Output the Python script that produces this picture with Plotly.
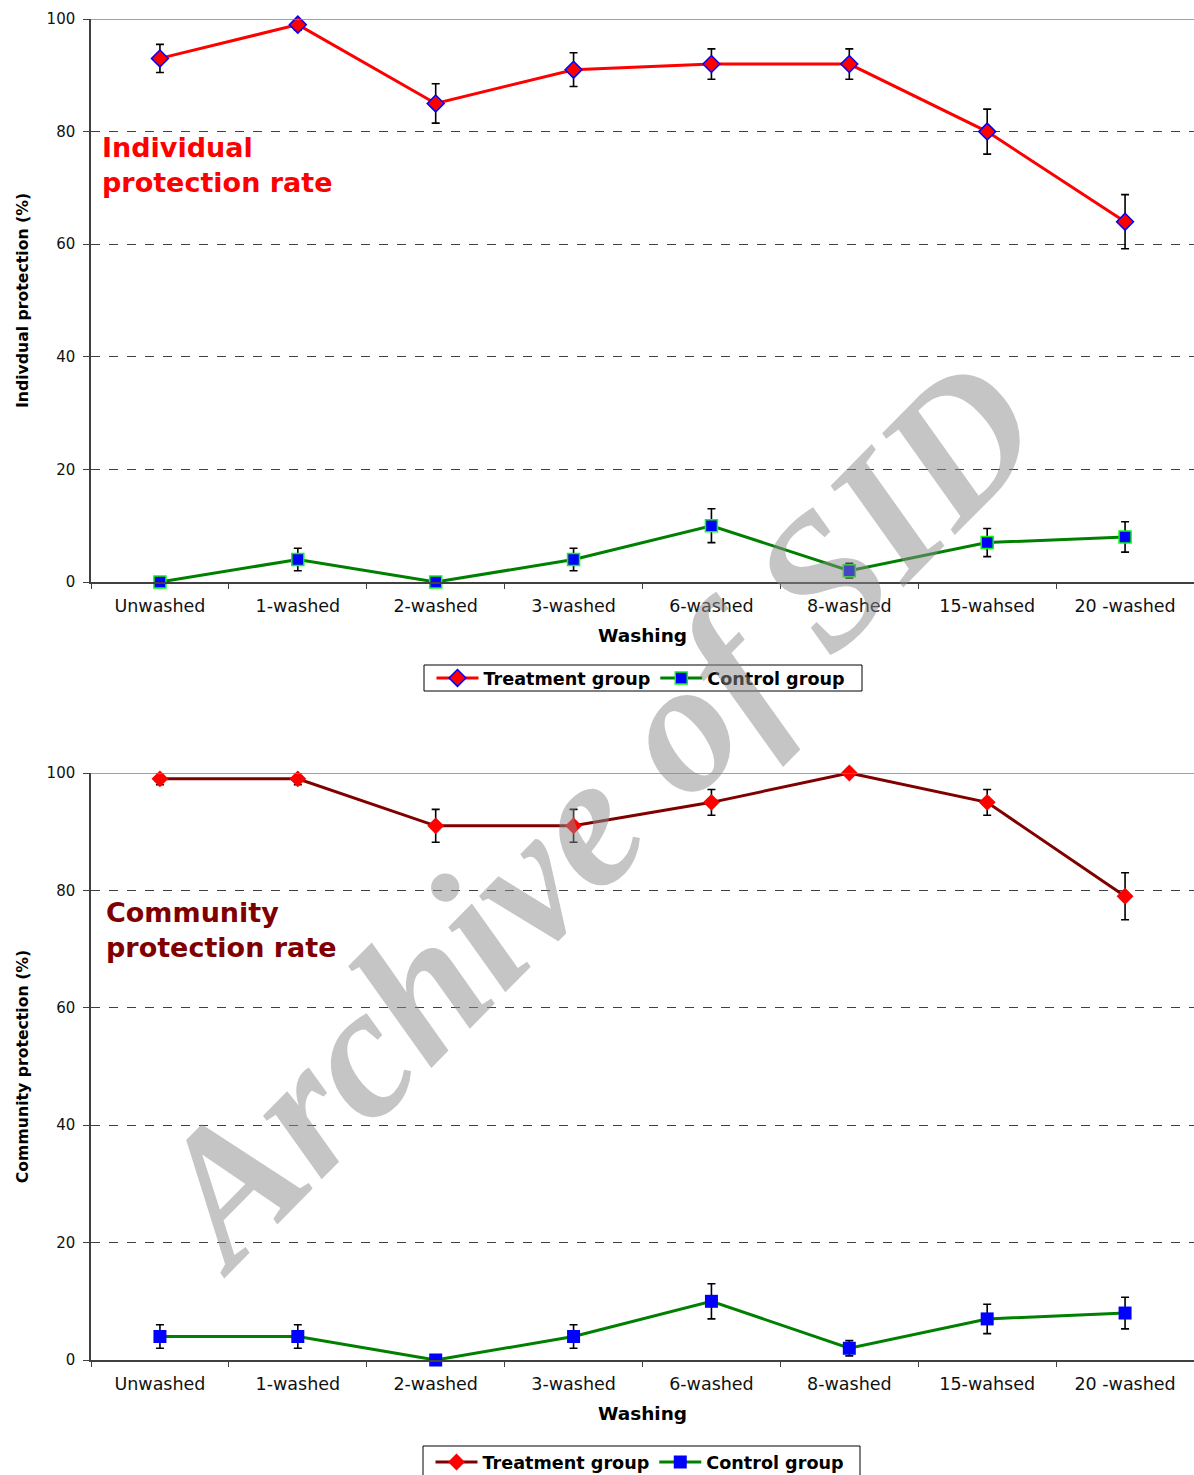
import plotly.graph_objects as go

# Washing stages on the x axis
stages = ["Unwashed", "1-washed", "2-washed", "3-washed", "6-washed",
          "8-washed", "15-wahsed", "20 -washed"]

# Individual protection rate (%)
ind_treat = [93, 99, 85, 91, 92, 92, 80, 64]
ind_treat_err = [2.5, 1.0, 3.5, 3.0, 2.7, 2.7, 4.0, 4.8]
ind_ctrl = [0, 4, 0, 4, 10, 2, 7, 8]
ind_ctrl_err = [0, 2.0, 0, 2.0, 3.0, 1.3, 2.5, 2.7]

# Community protection rate (%)
com_treat = [99, 99, 91, 91, 95, 100, 95, 79]
com_treat_err = [1.0, 1.0, 2.8, 2.8, 2.2, 0, 2.2, 4.0]
com_ctrl = [4, 4, 0, 4, 10, 2, 7, 8]
com_ctrl_err = [2.0, 2.0, 0, 2.0, 3.0, 1.3, 2.5, 2.7]

yticks = [0, 20, 40, 60, 80, 100]

W, H = 1194, 1475
FONT = "DejaVu Sans, Verdana, sans-serif"


def py(px):
    """Convert a pixel row (from top) into paper y."""
    return 1 - px / H


def px_x(px):
    return px / W


err_style = dict(type="data", color="black", thickness=1.6, width=4, visible=True)

fig = go.Figure()

# --- top panel: individual protection ---
fig.add_trace(go.Scatter(
    x=stages, y=ind_treat, name="Treatment group", mode="lines+markers",
    line=dict(color="#ff0000", width=3),
    marker=dict(symbol="diamond", size=13, color="#ff0000",
                line=dict(color="#0000ff", width=1.5)),
    error_y=dict(array=ind_treat_err, **err_style), cliponaxis=False,
    xaxis="x", yaxis="y", legend="legend"))
fig.add_trace(go.Scatter(
    x=stages, y=ind_ctrl, name="Control group", mode="lines+markers",
    line=dict(color="#008000", width=3),
    marker=dict(symbol="square", size=12, color="#0000ff",
                line=dict(color="#00ff00", width=1.5)),
    error_y=dict(array=ind_ctrl_err, **err_style), cliponaxis=False,
    xaxis="x", yaxis="y", legend="legend"))

# --- bottom panel: community protection ---
fig.add_trace(go.Scatter(
    x=stages, y=com_treat, name="Treatment group", mode="lines+markers",
    line=dict(color="#800000", width=3),
    marker=dict(symbol="diamond", size=13, color="#ff0000"),
    error_y=dict(array=com_treat_err, **err_style), cliponaxis=False,
    xaxis="x2", yaxis="y2", legend="legend2"))
fig.add_trace(go.Scatter(
    x=stages, y=com_ctrl, name="Control group", mode="lines+markers",
    line=dict(color="#008000", width=3),
    marker=dict(symbol="square", size=13, color="#0000ff"),
    error_y=dict(array=com_ctrl_err, **err_style), cliponaxis=False,
    xaxis="x2", yaxis="y2", legend="legend2"))

x_common = dict(
    type="category", domain=[px_x(91), 1.0], range=[-0.5, len(stages) - 0.5],
    showline=True, linecolor="#404040", linewidth=1.5,
    ticks="outside", tickson="boundaries", ticklen=5, tickcolor="#404040",
    ticklabelstandoff=7,
    showgrid=False, zeroline=False,
    tickfont=dict(family=FONT, size=17.5, color="#111111"),
    title=dict(text="<b>Washing</b>", font=dict(family=FONT, size=18.5, color="black"),
               standoff=14),
)
y_common = dict(
    range=[0, 100], tickvals=yticks, showline=True, linecolor="#404040", linewidth=1.5,
    ticks="outside", ticklen=6, tickcolor="#404040", ticklabelstandoff=5,
    showgrid=True, gridcolor="#404040", griddash="dash", gridwidth=1,
    zeroline=False,
    tickfont=dict(family=FONT, size=15, color="#111111"),
)

legend_common = dict(
    orientation="h", xanchor="center", yanchor="middle",
    borderwidth=0, bgcolor="rgba(0,0,0,0)",
    font=dict(family=FONT, size=17.6, color="black", weight="bold"),
    tracegroupgap=0, itemwidth=42,
)

fig.update_layout(
    width=W, height=H, margin=dict(l=0, r=0, t=0, b=0, autoexpand=False),
    paper_bgcolor="white", plot_bgcolor="white",
    xaxis=dict(**x_common, anchor="y"),
    yaxis=dict(**y_common, domain=[py(582), py(19)], anchor="x",
               title=dict(text="<b>Indivdual protection (%)</b>",
                          font=dict(family=FONT, size=15.7, color="black"), standoff=14)),
    xaxis2=dict(**x_common, anchor="y2"),
    yaxis2=dict(**y_common, domain=[py(1360), py(773)], anchor="x2",
                title=dict(text="<b>Community protection (%)</b>",
                           font=dict(family=FONT, size=15.7, color="black"), standoff=14)),
    legend=dict(**legend_common, x=px_x(641), y=py(678)),
    legend2=dict(**legend_common, x=px_x(640), y=py(1462)),
    showlegend=True,
)

# legend frames
fig.add_shape(type="rect", xref="paper", yref="paper",
              x0=px_x(424), x1=px_x(862), y0=py(691), y1=py(665),
              line=dict(color="black", width=1), fillcolor="white", layer="below")
fig.add_shape(type="rect", xref="paper", yref="paper",
              x0=px_x(423), x1=px_x(860), y0=py(1476), y1=py(1446),
              line=dict(color="black", width=1), fillcolor="white", layer="below")

# solid top border line at 100 on each panel
for xr, yr in (("x", "y"), ("x2", "y2")):
    fig.add_shape(type="line", xref=f"{xr} domain", yref=yr, x0=0, x1=1, y0=100, y1=100,
                  line=dict(color="#808080", width=1.5), layer="above")

# panel captions
fig.add_annotation(text="Individual<br>protection rate", xref="paper", yref="paper",
                   x=px_x(100), y=py(130), xanchor="left", yanchor="top", align="left",
                   showarrow=False,
                   font=dict(family=FONT, size=27, color="#ff0000", weight="bold"))
fig.add_annotation(text="Community<br>protection rate", xref="paper", yref="paper",
                   x=px_x(104), y=py(895), xanchor="left", yanchor="top", align="left",
                   showarrow=False,
                   font=dict(family=FONT, size=27, color="#800000", weight="bold"))

# diagonal watermark
fig.add_annotation(text="Archive of SID", xref="paper", yref="paper",
                   x=px_x(592), y=py(813), xanchor="center", yanchor="middle",
                   showarrow=False, textangle=-45.5,
                   font=dict(family="Liberation Serif, Times New Roman, serif", size=188,
                             color="rgba(140,140,140,0.5)", weight="bold", style="italic"))

fig.write_html("out.html")
